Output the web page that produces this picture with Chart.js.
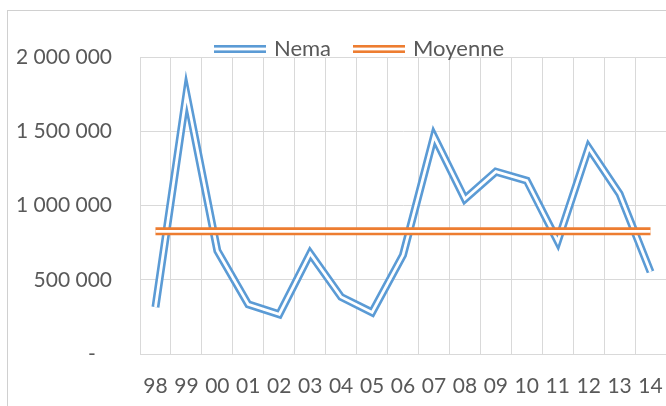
<!DOCTYPE html>
<html>
<head>
<meta charset="utf-8">
<script src="https://cdn.jsdelivr.net/npm/chart.js@4.4.1/dist/chart.umd.min.js"></script>
<style>
  html, body { margin: 0; padding: 0; background: #fff; overflow: hidden; }
  canvas { display: block; }
</style>
</head>
<body>
<canvas id="nemaChart" width="666" height="406"></canvas>
<script>
const years = ['98', '99', '00', '01', '02', '03', '04', '05', '06', '07', '08', '09', '10', '11', '12', '13', '14'];
const nema = [316000, 1750000, 695000, 334000, 267000, 677000, 384000, 280000, 666000,
              1465000, 1044000, 1228000, 1168000, 758000, 1389000, 1078000, 553000];
const moyenne = [826000, 826000, 826000, 826000, 826000, 826000, 826000, 826000, 826000,
                 826000, 826000, 826000, 826000, 826000, 826000, 826000, 826000];
const yTickLabels = ['-   ', '500 000', '1 000 000', '1 500 000', '2 000 000'];

const BLUE = '#5B9BD5';
const ORANGE = '#ED7D31';
const GRID = '#D9D9D9';
const TEXT = '#595959';
const LEGEND_DX = 24;
const LEGEND_DY = 13;

// Excel "double" line: a thick coloured stroke with a thin white stroke on top
function doubleLineSymbol(color) {
    const c = document.createElement('canvas');
    c.width = 52;
    c.height = 8;
    const g = c.getContext('2d');
    g.fillStyle = color;
    g.fillRect(0, 0, 52, 2.6);
    g.fillRect(0, 5.4, 52, 2.6);
    return c;
}

function lineSet(label, data, color, width, order, symbol) {
    return {
        label: label,
        data: data,
        borderColor: color,
        backgroundColor: color,
        borderWidth: width,
        borderJoinStyle: 'miter',
        borderCapStyle: 'butt',
        pointRadius: 0,
        pointHoverRadius: 0,
        pointStyle: symbol,
        tension: 0,
        fill: false,
        order: order
    };
}

const chartFrame = {
    id: 'chartFrame',
    beforeDraw(chart) {
        const ctx = chart.ctx;
        ctx.save();
        ctx.strokeStyle = '#D0D0D0';
        ctx.lineWidth = 1;
        ctx.strokeRect(7.5, 10.5, chart.width + 20, chart.height + 20);
        ctx.restore();
    },
    afterLayout(chart) {
        // legend sits closer to the plot than Chart.js would place it
        const lg = chart.legend;
        lg.top += LEGEND_DY;
        lg.bottom += LEGEND_DY;
        lg.left += LEGEND_DX;
        lg.right += LEGEND_DX;
    }
};

Chart.defaults.font.family = 'Lato';
Chart.defaults.font.size = 21;
Chart.defaults.color = TEXT;

const ctx = document.getElementById('nemaChart').getContext('2d');
const myChart = new Chart(ctx, {
    type: 'line',
    data: {
        labels: years,
        datasets: [
            lineSet('Nema', nema, BLUE, 8, 3, doubleLineSymbol(BLUE)),
            lineSet('', nema, '#FFFFFF', 2.8, 2),
            lineSet('Moyenne', moyenne, ORANGE, 8, 1, doubleLineSymbol(ORANGE)),
            lineSet('', moyenne, '#FFFFFF', 2.8, 0)
        ]
    },
    options: {
        responsive: false,
        animation: false,
        events: [],
        layout: {
            padding: { left: 7, top: 0, right: 0, bottom: 0 }
        },
        plugins: {
            tooltip: { enabled: false },
            legend: {
                position: 'top',
                labels: {
                    usePointStyle: true,
                    pointStyleWidth: 46,
                    padding: 25,
                    color: TEXT,
                    font: { family: 'Lato', size: 22 },
                    filter: item => item.text !== '',
                    sort: (a, b) => a.datasetIndex - b.datasetIndex
                }
            }
        },
        scales: {
            x: {
                offset: true,
                grid: { color: GRID, offset: true, drawTicks: false },
                border: { color: GRID },
                ticks: { padding: 20, maxRotation: 0, autoSkip: false, color: TEXT },
                afterFit: scale => {
                    scale.height = 52;
                    scale.paddingLeft = 0;
                    scale.paddingRight = 0;
                }
            },
            y: {
                min: 0,
                max: 2000000,
                grid: { color: GRID, drawTicks: false },
                border: { color: GRID },
                ticks: {
                    stepSize: 500000,
                    padding: 28,
                    color: TEXT,
                    callback: (value, index) => yTickLabels[index]
                },
                afterFit: scale => { scale.width = 133; }
            }
        }
    },
    plugins: [chartFrame]
});
</script>
</body>
</html>
